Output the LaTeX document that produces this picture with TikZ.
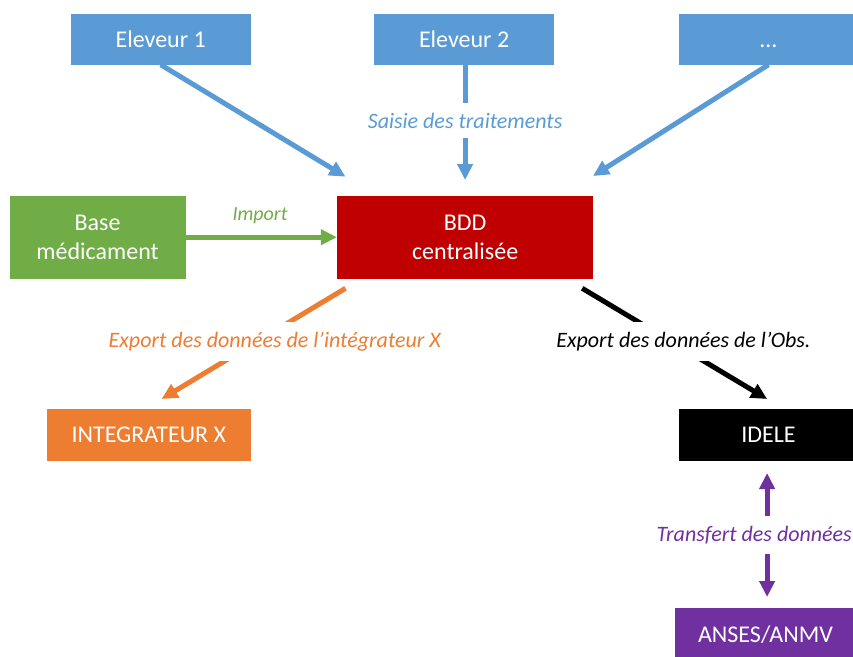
\documentclass[tikz,border=0pt]{standalone}
\usepackage{fontspec}
\setmainfont{Carlito}
\usetikzlibrary{arrows.meta}
\definecolor{eleveurblue}{HTML}{5B9BD5}
\definecolor{bddred}{HTML}{C00000}
\definecolor{medgreen}{HTML}{70AD47}
\definecolor{intorange}{HTML}{ED7D31}
\definecolor{ansespurple}{HTML}{7030A0}
\tikzset{
	box/.style={draw=none, inner sep=0pt, align=center, text=white, font=\fontsize{24}{29}\selectfont},
	flow/.style={line width=5pt, -{Triangle[length=16pt,width=15pt]}},
	flowlabel/.style={fill=white, inner xsep=2pt, inner ysep=10pt, font=\fontsize{22}{26}\selectfont\itshape}
}
\begin{document}
\begin{tikzpicture}[x=1pt, y=-1pt]
				\useasboundingbox (0,0) rectangle (853,656);
				\def\boxw {180};
				% draw eleveur boxes
				\foreach \n/\x/\t in {1/160.7/Eleveur 1, 2/464.1/Eleveur 2, 3/768.5/\ldots}
				{
					\node[box, fill=eleveurblue, minimum width=\boxw pt, minimum height=51pt, text height=16pt, text depth=0pt] (e\n) at (\x,39) {\t};
				}
				% main boxes
				\node[box, fill=medgreen, minimum width=176pt, minimum height=83pt] (base) at (97.6,237.2) {Base\\médicament};
				\node[box, fill=bddred, minimum width=256pt, minimum height=83pt] (bdd) at (465.1,237.2) {BDD\\centralisée};
				\node[box, fill=intorange, minimum width=204pt, minimum height=52pt] (intX) at (148.8,435.1) {INTEGRATEUR X};
				\node[box, fill=black, minimum width=\boxw pt, minimum height=52pt] (idele) at (768.5,435.1) {IDELE};
				\node[box, fill=ansespurple, minimum width=182pt, minimum height=52pt] (anses) at (765.5,634.3) {ANSES/ANMV};
				% arrow ends
				\coordinate (in1) at (345.5,176.7);
				\coordinate (in2) at (465.1,180);
				\coordinate (in3) at (593,176);
				\coordinate (out1) at (345.5,288.3);
				\coordinate (out2) at (582.2,288.3);
				\coordinate (tipX) at (161.6,399);
				\coordinate (tipObs) at (767.1,399);
				\coordinate (tipUp) at (767.1,473);
				\coordinate (tipDown) at (767.1,597);
				% saisie des traitements
				\draw[flow, eleveurblue] (e1.south) -- (in1);
				\draw[flow, eleveurblue] (e2.south -| in2) -- (in2);
				\draw[flow, eleveurblue] (e3.south) -- (in3);
				\node[flowlabel, text=eleveurblue] (saisie) at (465.1,120.7) {Saisie des traitements};
				% import
				\draw[flow, medgreen] (base.east) -- (bdd.west);
				\node[font=\fontsize{20}{24}\selectfont\itshape, text=medgreen] (import) at (260,216) {Import};
				% exports
				\draw[flow, intorange] (out1) -- (tipX);
				\node[flowlabel, text=intorange] (exportX) at (274.8,341.7) {Export des données de l’intégrateur X};
				\draw[flow, black] (out2) -- (tipObs);
				\node[flowlabel, text=black] (exportObs) at (683.4,341.7) {Export des données de l’Obs.};
				% transfert
				\draw[flow, ansespurple, {Triangle[length=16pt,width=15pt]}-{Triangle[length=16pt,width=15pt]}] (tipUp) -- (tipDown);
				\node[flowlabel, text=ansespurple, anchor=east, inner xsep=0pt] (transfert) at (852,535) {Transfert des données};
			\end{tikzpicture}
\end{document}
